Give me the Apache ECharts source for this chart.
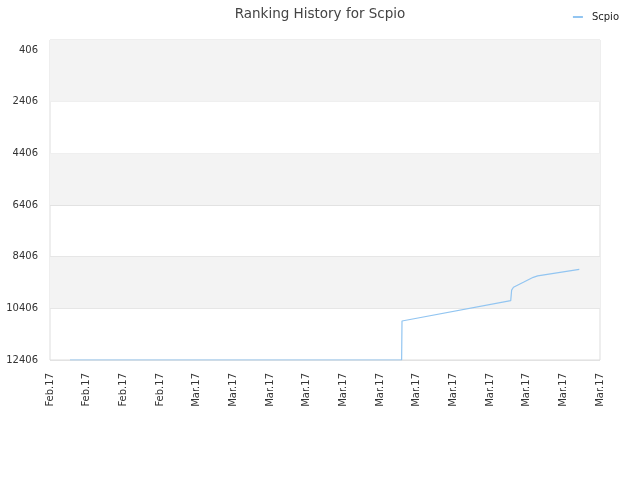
<!DOCTYPE html>
<html><head><meta charset="utf-8">
<script src="https://cdn.jsdelivr.net/npm/echarts@6/dist/echarts.min.js"></script>
<style>html,body{margin:0;padding:0;background:#fff}#c{width:640px;height:480px}</style>
</head><body><div id="c"></div>
<script>
var title = 'Ranking History for Scpio';
var seriesName = 'Scpio';
var xLabels = ['Feb.17','Feb.17','Feb.17','Feb.17','Mar.17','Mar.17','Mar.17','Mar.17','Mar.17','Mar.17','Mar.17','Mar.17','Mar.17','Mar.17','Mar.17','Mar.17'];
var yTicks = [406, 2406, 4406, 6406, 8406, 10406, 12406];
var yTop = 19;
// x in tick-index units, y = rank
var xs = [0.545, 9.59, 9.6, 12.565, 12.59, 12.64, 12.91, 13.18, 13.3, 14.435];
var ranks = [12406, 12406, 10896, 10110, 9700, 9590, 9398, 9205, 9150, 8895];

var data = xs.map(function(x, i){ return [x, ranks[i]]; });
var bands = [[yTop, yTicks[1]], [yTicks[2], yTicks[3]], [yTicks[4], yTicks[5]]].map(function(b){
  return [{yAxis: b[0]}, {yAxis: b[1]}];
});
var font = 'DejaVu Sans';
var chart = echarts.init(document.getElementById('c'), null, {renderer: 'canvas'});
chart.setOption({
  animation: false,
  backgroundColor: '#fff',
  title: {text: title, left: 'center', top: 2, textStyle: {fontFamily: font, fontSize: 13.5, fontWeight: 'normal', color: '#444'}},
  legend: {right: 16, top: 7, itemWidth: 10, itemHeight: 2, itemGap: 8, icon: 'rect', textStyle: {fontFamily: font, fontSize: 10, color: '#222', padding: [0, 0, 0, 4]}, data: [seriesName]},
  grid: {left: 50, right: 40, top: 40, bottom: 120, show: true, borderColor: '#ddd', borderWidth: 1, backgroundColor: 'transparent'},
  xAxis: {type: 'value', min: 0, max: xLabels.length - 1, interval: 1,
    axisLine: {show: false}, axisTick: {show: false}, splitLine: {show: false},
    axisLabel: {rotate: 90, margin: 13, fontFamily: font, fontSize: 10, color: '#333', formatter: function(v){ return xLabels[Math.round(v)] || ''; }}
  },
  yAxis: {type: 'value', inverse: true, min: yTop, max: yTicks[yTicks.length-1],
    axisLine: {show: false},
    axisTick: {show: false, customValues: yTicks},
    axisLabel: {customValues: yTicks, margin: 12, fontFamily: font, fontSize: 10, color: '#333', formatter: function(v){ return String(v); }},
    splitLine: {show: true, lineStyle: {color: '#e2e2e2', width: 1}}
  },
  series: [{
    name: seriesName, type: 'line', data: data, symbol: 'none',
    lineStyle: {color: '#92c5f1', width: 1.2}, itemStyle: {color: '#92c5f1'},
    markArea: {silent: true, itemStyle: {color: '#f3f3f3'}, data: bands}
  }]
});
</script></body></html>
